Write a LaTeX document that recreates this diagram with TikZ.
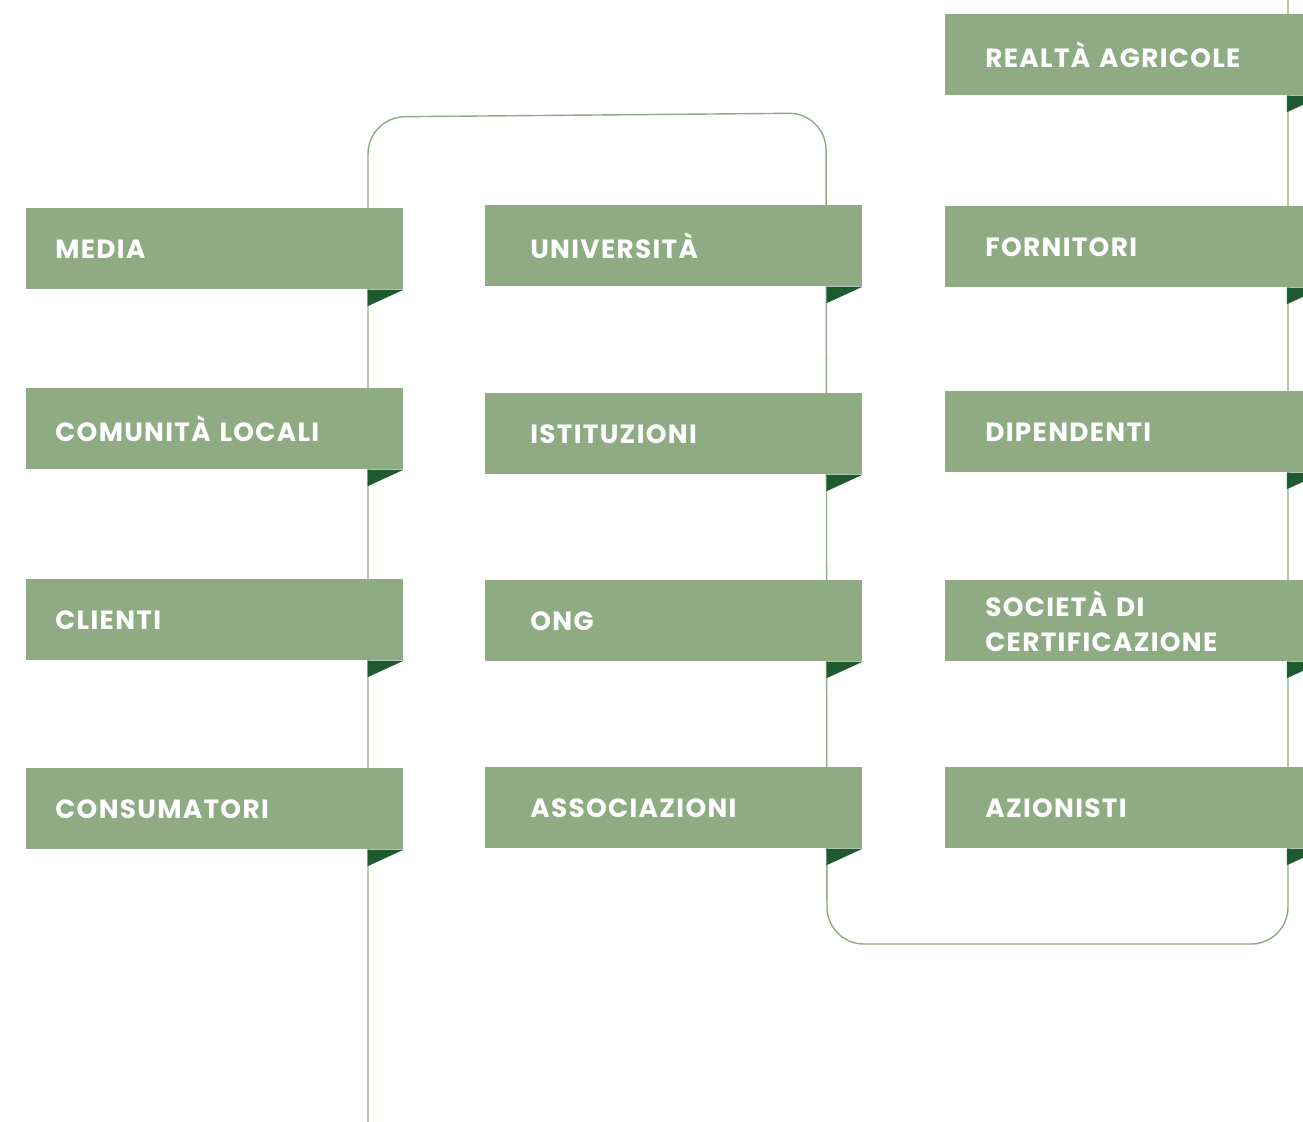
\documentclass[tikz,border=0pt]{standalone}
\usepackage{fontspec}
\setmainfont{Poppins}
\newfontfamily\stakefont{Poppins}[LetterSpace=5]
\usepackage{tikz}
\usetikzlibrary{positioning}
\definecolor{sage}{HTML}{8FAB83}
\definecolor{darkleaf}{HTML}{1D5A2E}
\tikzset{
    %Define style for boxes
    stake/.style={
           rectangle,
           fill=sage,
           anchor=north west,
           minimum width=7.54cm,
           minimum height=1.62cm,
           align=left,
           text=white,
           font=\stakefont\fontsize{15}{20}\selectfont\bfseries},
    colA/.style={stake, inner xsep=0.58cm, text width=6.38cm},
    colB/.style={stake, inner xsep=0.9cm, text width=5.74cm},
    colC/.style={stake, inner xsep=0.8cm, text width=5.94cm},
    % Define fold style
    fold/.style={fill=darkleaf},
    % Define line style
    route/.style={draw=sage, line width=0.8pt, rounded corners=0.74cm}
}
\begin{document}
\begin{tikzpicture}[x=0.02cm,y=-0.02cm]
\clip (0,0) rectangle (1303,1122);
\fill[white] (0,0) rectangle (1303,1122);

 %route coordinates
\coordinate (start) at (368,1122);
\coordinate (topleft) at (368,117);
\coordinate (topright) at (826,113);
\coordinate (botleft) at (827,944);
\coordinate (botright) at (1288,944);
\coordinate (finish) at (1288,0);
\draw[route] (start) -- (topleft) -- (topright) -- (botleft) -- (botright) -- (finish);

 %first column
\node[colA] (media) at (26,208) {MEDIA};
\node[colA] (comunita) at (26,388) {COMUNITÀ LOCALI};
\node[colA] (clienti) at (26,579) {CLIENTI};
\node[colA] (consumatori) at (26,768) {CONSUMATORI};

 %second column
\node[colB] (universita) at (485,205) {UNIVERSITÀ};
\node[colB] (istituzioni) at (485,393) {ISTITUZIONI};
\node[colB] (ong) at (485,580) {ONG};
\node[colB] (associazioni) at (485,767) {ASSOCIAZIONI};

 %third column
\node[colC] (realta) at (945,14) {REALTÀ AGRICOLE};
\node[colC] (fornitori) at (945,206) {FORNITORI};
\node[colC] (dipendenti) at (945,391) {DIPENDENTI};
\node[colC] (societa) at (945,580) {SOCIETÀ DI\\CERTIFICAZIONE};
\node[colC] (azionisti) at (945,767) {AZIONISTI};

 %folds
\foreach \n in {media,comunita,clienti,consumatori,universita,istituzioni,ong,associazioni}
  \fill[fold] ([xshift=-0.72cm]\n.south east) -- (\n.south east) -- ([xshift=-0.72cm,yshift=-0.33cm]\n.south east) -- cycle;
\foreach \n in {realta,fornitori,dipendenti,societa,azionisti}
  \fill[fold] ([xshift=6.84cm]\n.south west) -- ([xshift=7.56cm]\n.south west) -- ([xshift=6.84cm,yshift=-0.33cm]\n.south west) -- cycle;

\end{tikzpicture}
\end{document}
